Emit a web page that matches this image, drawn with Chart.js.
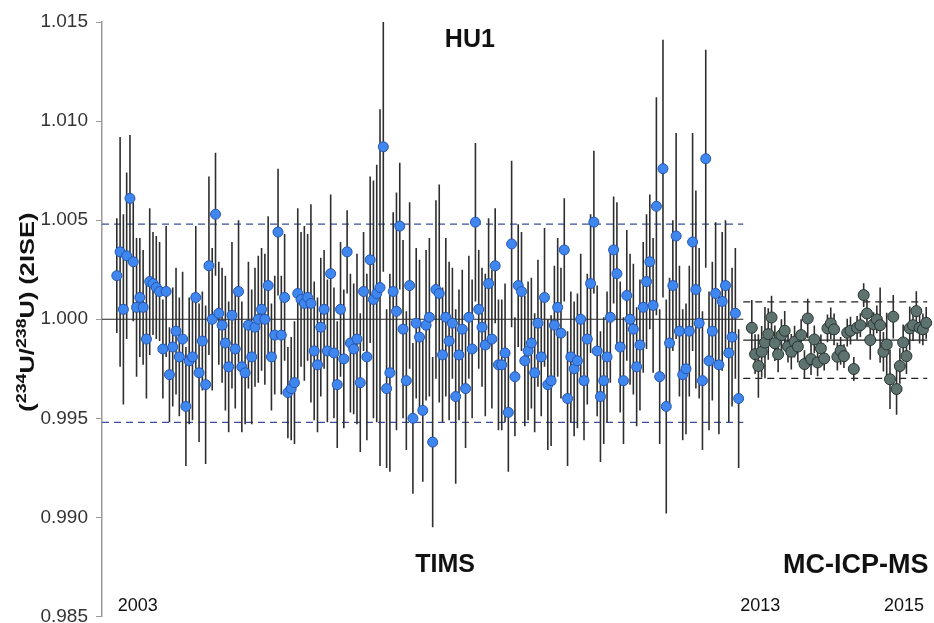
<!DOCTYPE html>
<html lang="en">
<head>
<meta charset="UTF-8">
<title>HU1 (234U/238U)</title>
<script src="https://cdn.jsdelivr.net/npm/chart.js@4"></script>
<style>
  html, body { margin: 0; padding: 0; background: #fff; }
  #wrap { width: 934px; height: 623px; position: relative; }
</style>
</head>
<body>
<div id="wrap"><canvas id="chart"></canvas></div>
<script>
// TIMS runs (2003-2013), in measurement order
const timsValues = [
  1.0022,1.0034,1.0005,1.0032,1.0061,1.0029,1.0006,1.0011,1.0006,0.9990,1.0019,1.0018,1.0016,1.0014,0.9985,1.0014,0.9972,0.9986,0.9994,0.9981,0.9990,0.9956,0.9979,0.9981,1.0011,0.9973,0.9989,0.9967,1.0027,1.0000,
  1.0053,1.0003,0.9997,0.9988,0.9976,1.0002,0.9985,1.0014,0.9976,0.9973,0.9997,0.9981,0.9996,1.0000,1.0005,1.0000,1.0017,0.9981,0.9992,1.0044,0.9992,1.0011,0.9963,0.9965,0.9968,1.0013,1.0010,1.0008,1.0011,1.0008,0.9984,0.9977,
  0.9996,1.0005,0.9984,1.0023,0.9983,0.9967,1.0005,0.9980,1.0034,0.9988,0.9985,0.9990,0.9968,1.0014,0.9981,1.0030,1.0010,1.0013,1.0016,1.0087,0.9965,0.9973,1.0014,1.0004,1.0047,0.9995,0.9969,1.0017,0.9950,0.9998,0.9991,0.9954,
  0.9997,1.0001,0.9938,1.0015,1.0013,0.9982,1.0001,0.9989,0.9998,0.9961,0.9982,0.9995,0.9965,1.0001,0.9985,1.0049,1.0005,0.9996,0.9987,1.0018,0.9990,1.0027,0.9977,0.9977,0.9983,0.9953,1.0038,0.9971,1.0017,1.0014,0.9979,
  0.9984,0.9988,0.9973,0.9998,0.9981,1.0011,0.9967,0.9969,0.9997,1.0006,0.9993,1.0035,0.9960,0.9981,0.9975,0.9979,1.0000,0.9969,0.9990,1.0018,1.0049,0.9984,0.9961,0.9969,0.9981,1.0001,1.0035,1.0023,0.9986,0.9969,1.0012,1.0000,
  0.9995,0.9976,0.9987,1.0006,1.0019,1.0029,1.0007,1.0057,0.9971,1.0076,0.9956,0.9988,1.0017,1.0042,0.9994,0.9972,0.9975,0.9994,1.0039,1.0015,0.9998,0.9969,1.0081,0.9979,0.9994,1.0013,0.9977,1.0009,1.0017,0.9983,0.9991,1.0003,0.9960
];
const timsErrors = [
  0.0029,0.0058,0.0048,0.0042,0.0032,0.0030,0.0035,0.0030,0.0029,0.0030,0.0037,0.0026,0.0026,0.0025,0.0025,0.0033,0.0024,0.0030,0.0032,0.0030,0.0034,0.0030,0.0032,0.0032,0.0036,0.0035,0.0025,0.0040,0.0045,0.0036,
  0.0031,0.0026,0.0029,0.0034,0.0033,0.0037,0.0030,0.0036,0.0033,0.0026,0.0032,0.0034,0.0030,0.0032,0.0031,0.0033,0.0035,0.0027,0.0030,0.0032,0.0030,0.0032,0.0023,0.0026,0.0031,0.0043,0.0034,0.0039,0.0032,0.0050,0.0035,0.0034,
  0.0035,0.0030,0.0036,0.0040,0.0033,0.0032,0.0034,0.0035,0.0021,0.0035,0.0033,0.0043,0.0035,0.0030,0.0042,0.0042,0.0060,0.0065,0.0090,0.0063,0.0040,0.0050,0.0040,0.0060,0.0032,0.0045,0.0035,0.0042,0.0038,0.0038,0.0039,0.0036,
  0.0038,0.0040,0.0043,0.0045,0.0055,0.0034,0.0040,0.0040,0.0028,0.0044,0.0033,0.0030,0.0030,0.0031,0.0035,0.0040,0.0030,0.0030,0.0036,0.0033,0.0035,0.0029,0.0033,0.0033,0.0035,0.0030,0.0042,0.0030,0.0031,0.0030,0.0033,
  0.0035,0.0033,0.0030,0.0032,0.0030,0.0035,0.0033,0.0033,0.0030,0.0035,0.0033,0.0026,0.0034,0.0033,0.0034,0.0034,0.0033,0.0030,0.0033,0.0035,0.0036,0.0033,0.0033,0.0032,0.0033,0.0033,0.0027,0.0036,0.0033,0.0032,0.0033,0.0033,
  0.0033,0.0030,0.0033,0.0033,0.0034,0.0034,0.0034,0.0055,0.0034,0.0065,0.0054,0.0033,0.0033,0.0052,0.0033,0.0033,0.0033,0.0033,0.0055,0.0050,0.0038,0.0035,0.0055,0.0035,0.0035,0.0036,0.0035,0.0035,0.0033,0.0035,0.0035,0.0033,0.0035
];

// MC-ICP-MS runs (2013-2015)
const mcValues = [
  0.99957,0.99824,0.99764,0.99836,0.99882,0.99925,1.00009,0.99879,0.99823,0.99920,0.99942,0.99862,0.99836,0.99887,0.99862,0.99920,0.99774,1.00004,
  0.99799,0.99898,0.99782,0.99853,0.99802,0.99954,0.99979,0.99949,0.99811,0.99841,0.99814,0.99932,0.99942,0.99749,0.99957,0.99970,1.00122,1.00029,
  0.99895,0.99975,0.99999,0.99970,0.99836,0.99873,0.99697,1.00013,0.99648,0.99764,0.99883,0.99814,0.99954,0.99970,1.00041,0.99957,0.99949,0.99982
];
const mcErrors = [
  0.0014,0.0010,0.0016,0.0013,0.0018,0.0013,0.0011,0.0009,0.0009,0.0008,0.0010,0.0008,0.0009,0.0008,0.0008,0.0008,0.0007,0.0010,
  0.0008,0.0007,0.0007,0.0007,0.0006,0.0007,0.0008,0.0008,0.0007,0.0007,0.0006,0.0007,0.0007,0.0006,0.0006,0.0006,0.0006,0.0007,
  0.0010,0.0006,0.0007,0.0019,0.0010,0.0016,0.0015,0.0011,0.0013,0.0009,0.0009,0.0009,0.0011,0.0008,0.0010,0.0008,0.0008,0.0008
];

// run index of first point in each group, and where the two methods split
const timsStart = 1;
const mcStart = 194;
const splitRun = 191.4;

// reference lines: mean and +/- 2SD
const timsLines = { mean: 1.0000, high: 1.0048, low: 0.9948 };
const mcLines = { mean: 0.99895, high: 1.00088, low: 0.99702 };

const yMin = 0.985, yMax = 1.015, yStep = 0.005;
const xMin = -3.5, xMax = 247.4;

// text placed in data coordinates
const notes = [
  { text: 'HU1', x: 108.3, y: 1.0141, font: 'bold 25px "Liberation Sans", Arial, sans-serif', align: 'center' },
  { text: 'TIMS', x: 100.8, y: 0.98757, font: 'bold 25px "Liberation Sans", Arial, sans-serif', align: 'center' },
  { text: 'MC-ICP-MS', x: 225.6, y: 0.98757, font: 'bold 27px "Liberation Sans", Arial, sans-serif', align: 'center' },
  { text: '2003', x: 1.3, y: 0.98553, font: '18px "Liberation Sans", Arial, sans-serif', align: 'left' },
  { text: '2013', x: 190.5, y: 0.98553, font: '18px "Liberation Sans", Arial, sans-serif', align: 'left' },
  { text: '2015', x: 234.2, y: 0.98553, font: '18px "Liberation Sans", Arial, sans-serif', align: 'left' }
];

function points(values, start) {
  return values.map((v, i) => ({ x: start + i, y: v }));
}

function whiskers(values, errors, start) {
  const out = [];
  values.forEach((v, i) => {
    out.push({ x: start + i, y: v - errors[i] });
    out.push({ x: start + i, y: v + errors[i] });
    out.push({ x: start + i, y: null });
  });
  return out;
}

function hline(y, x0, x1, color, dash) {
  return {
    type: 'line',
    data: [{ x: x0, y: y }, { x: x1, y: y }],
    borderColor: color,
    borderWidth: 1.2,
    borderDash: dash,
    pointRadius: 0,
    order: 3
  };
}

const notesPlugin = {
  id: 'notes',
  afterDraw(chart) {
    const { ctx, scales: { x, y } } = chart;
    ctx.save();
    ctx.fillStyle = '#111';
    ctx.textBaseline = 'middle';
    notes.forEach(n => {
      ctx.font = n.font;
      ctx.textAlign = n.align;
      ctx.fillText(n.text, x.getPixelForValue(n.x), y.getPixelForValue(n.y));
    });

    // rotated y-axis title with superscript mass numbers
    const parts = [
      ['(', false], ['234', true], ['U/', false], ['238', true], ['U) (2ISE)', false]
    ];
    const big = 'bold 20px "Liberation Sans", Arial, sans-serif';
    const small = 'bold 14px "Liberation Sans", Arial, sans-serif';
    let total = 0;
    parts.forEach(p => { ctx.font = p[1] ? small : big; total += ctx.measureText(p[0]).width; });
    ctx.translate(34, y.getPixelForValue(1.00036));
    ctx.rotate(-Math.PI / 2);
    ctx.scale(1.27, 1);
    ctx.textAlign = 'left';
    ctx.textBaseline = 'alphabetic';
    let cx = -total / 2;
    parts.forEach(p => {
      ctx.font = p[1] ? small : big;
      ctx.fillText(p[0], cx, p[1] ? -8 : 0);
      cx += ctx.measureText(p[0]).width;
    });
    ctx.restore();
  }
};

const ctx = document.getElementById('chart').getContext('2d');
new Chart(ctx, {
  type: 'scatter',
  data: {
    datasets: [
      {
        type: 'scatter',
        data: points(timsValues, timsStart),
        pointRadius: 5,
        pointBackgroundColor: '#3f86ef',
        pointBorderColor: '#2556b0',
        pointBorderWidth: 1,
        clip: false,
        order: 1
      },
      {
        type: 'scatter',
        data: points(mcValues, mcStart),
        pointRadius: 5.5,
        pointBackgroundColor: '#5e7370',
        pointBorderColor: '#26332f',
        pointBorderWidth: 1,
        clip: false,
        order: 1
      },
      {
        type: 'line',
        data: whiskers(timsValues, timsErrors, timsStart),
        borderColor: '#2e2e2e',
        borderWidth: 1.6,
        pointRadius: 0,
        spanGaps: false,
        order: 2
      },
      {
        type: 'line',
        data: whiskers(mcValues, mcErrors, mcStart),
        borderColor: '#2e2e2e',
        borderWidth: 1.6,
        pointRadius: 0,
        spanGaps: false,
        order: 2
      },
      hline(timsLines.mean, xMin, splitRun, '#222', []),
      hline(timsLines.high, xMin, splitRun, '#3b4f99', [7, 5]),
      hline(timsLines.low, xMin, splitRun, '#3b4f99', [7, 5]),
      hline(mcLines.mean, splitRun, xMax, '#222', []),
      hline(mcLines.high, splitRun, xMax, '#222', [7, 5]),
      hline(mcLines.low, splitRun, xMax, '#222', [7, 5])
    ]
  },
  options: {
    responsive: true,
    maintainAspectRatio: false,
    animation: false,
    layout: { padding: { top: 22, bottom: 6, left: 0, right: 0 } },
    plugins: {
      legend: { display: false },
      tooltip: { enabled: false }
    },
    scales: {
      x: {
        type: 'linear',
        min: xMin,
        max: xMax,
        display: false
      },
      y: {
        min: yMin,
        max: yMax,
        afterFit(scale) {
          scale.width = 102;
          scale.paddingTop = 0;
          scale.paddingBottom = 0;
        },
        border: { color: '#9a9a9a', width: 1.5 },
        grid: { drawOnChartArea: false, tickLength: 6, color: '#9a9a9a' },
        ticks: {
          stepSize: yStep,
          padding: 8,
          color: '#333',
          font: { family: '"Liberation Sans", Arial, sans-serif', size: 19 },
          callback: v => v.toFixed(3)
        }
      }
    }
  },
  plugins: [notesPlugin]
});
</script>
</body>
</html>
